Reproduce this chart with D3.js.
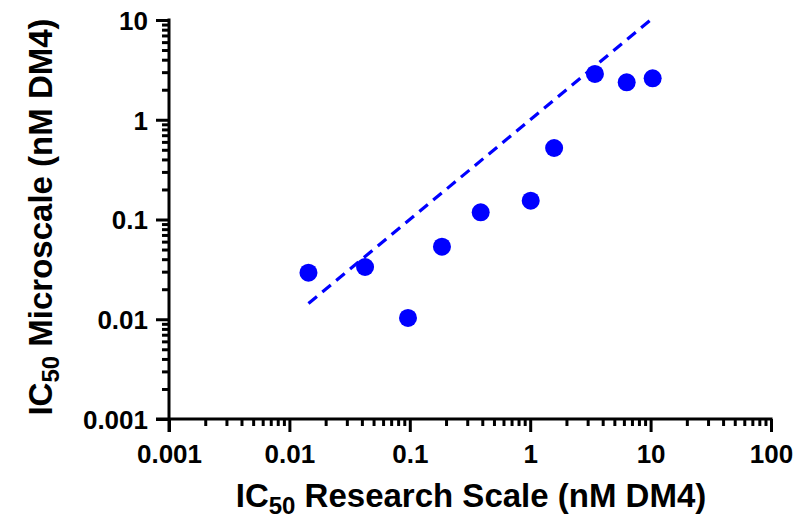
<!DOCTYPE html>
<html><head><meta charset="utf-8">
<script src="https://cdn.jsdelivr.net/npm/d3@7"></script>
<style>body{margin:0;background:#fff}svg{display:block}text{font-family:"Liberation Sans",Arial,sans-serif;font-weight:bold;fill:#000}</style>
</head><body>
<script>
const researchScale = [0.0144, 0.0425, 0.0966, 0.185, 0.388, 1.01, 1.58, 3.45, 6.33, 10.4];
const microScale   = [0.0293, 0.0334, 0.0103, 0.0534, 0.118, 0.1545, 0.521, 2.88, 2.37, 2.60];
const xTicks = [0.001, 0.01, 0.1, 1, 10, 100];
const xTickLabels = ["0.001", "0.01", "0.1", "1", "10", "100"];
const yTicks = [0.001, 0.01, 0.1, 1, 10];
const yTickLabels = ["0.001", "0.01", "0.1", "1", "10"];

const W = 798, H = 522;
const svg = d3.select("body").append("svg").attr("width", W).attr("height", H);
const x = d3.scaleLog().domain([0.001, 100]).range([169, 771]);
const y = d3.scaleLog().domain([0.001, 10]).range([419, 20]);

function minorTicks(lo, hi) {
  const out = [];
  for (let d = lo; d < hi; d *= 10) for (let k = 2; k <= 9; k++) out.push(d * k);
  return out;
}
function styleAxis(g) {
  g.attr("font-size", null).attr("font-family", null);
  g.select(".domain").remove();
  g.selectAll("line").attr("stroke", "#000").attr("stroke-width", 3);
}

// x axis
const x0 = y(0.001);
svg.append("g").attr("transform", `translate(0,${x0})`)
  .call(d3.axisBottom(x).tickValues(minorTicks(0.001, 100)).tickSize(7).tickFormat(""))
  .call(styleAxis);
const xMaj = svg.append("g").attr("transform", `translate(0,${x0})`)
  .call(d3.axisBottom(x).tickValues(xTicks).tickSize(13).tickFormat((d, i) => xTickLabels[i]).tickPadding(12))
  .call(styleAxis);
xMaj.selectAll("text").attr("font-size", 26).attr("dy", "0.72em");
svg.append("line").attr("x1", x(0.001) - 13).attr("x2", x(100) + 1.5).attr("y1", x0).attr("y2", x0)
  .attr("stroke", "#000").attr("stroke-width", 3);

// y axis
const y0 = x(0.001);
svg.append("g").attr("transform", `translate(${y0},0)`)
  .call(d3.axisLeft(y).tickValues(minorTicks(0.001, 10)).tickSize(7).tickFormat(""))
  .call(styleAxis);
const yMaj = svg.append("g").attr("transform", `translate(${y0},0)`)
  .call(d3.axisLeft(y).tickValues(yTicks).tickSize(13).tickFormat((d, i) => yTickLabels[i]).tickPadding(8))
  .call(styleAxis);
yMaj.selectAll("text").attr("font-size", 26).attr("dy", "0.36em");
svg.append("line").attr("x1", y0).attr("x2", y0).attr("y1", y(10) - 1.5).attr("y2", y(0.001) + 13)
  .attr("stroke", "#000").attr("stroke-width", 3);

// identity line
const xmin = d3.min(researchScale), xmax = d3.max(researchScale);
svg.append("line")
  .attr("x1", x(xmin)).attr("y1", y(xmin)).attr("x2", x(xmax)).attr("y2", y(xmax))
  .attr("stroke", "#0000ff").attr("stroke-width", 3.2).attr("stroke-dasharray", "11,7");

// points
svg.append("g").selectAll("circle").data(researchScale).join("circle")
  .attr("cx", d => x(d)).attr("cy", (d, i) => y(microScale[i])).attr("r", 9).attr("fill", "#0000ff");

// titles
const xt = svg.append("text").attr("x", 471).attr("y", 507).attr("text-anchor", "middle").attr("font-size", 33);
xt.append("tspan").text("IC");
xt.append("tspan").text("50").attr("font-size", 24).attr("dy", 7);
xt.append("tspan").text(" Research Scale (nM DM4)").attr("dy", -7);

const yt = svg.append("text").attr("transform", "translate(52,217) rotate(-90)").attr("text-anchor", "middle").attr("font-size", 33);
yt.append("tspan").text("IC");
yt.append("tspan").text("50").attr("font-size", 24).attr("dy", 7);
yt.append("tspan").text(" Microscale (nM DM4)").attr("dy", -7);
</script>
</body></html>
